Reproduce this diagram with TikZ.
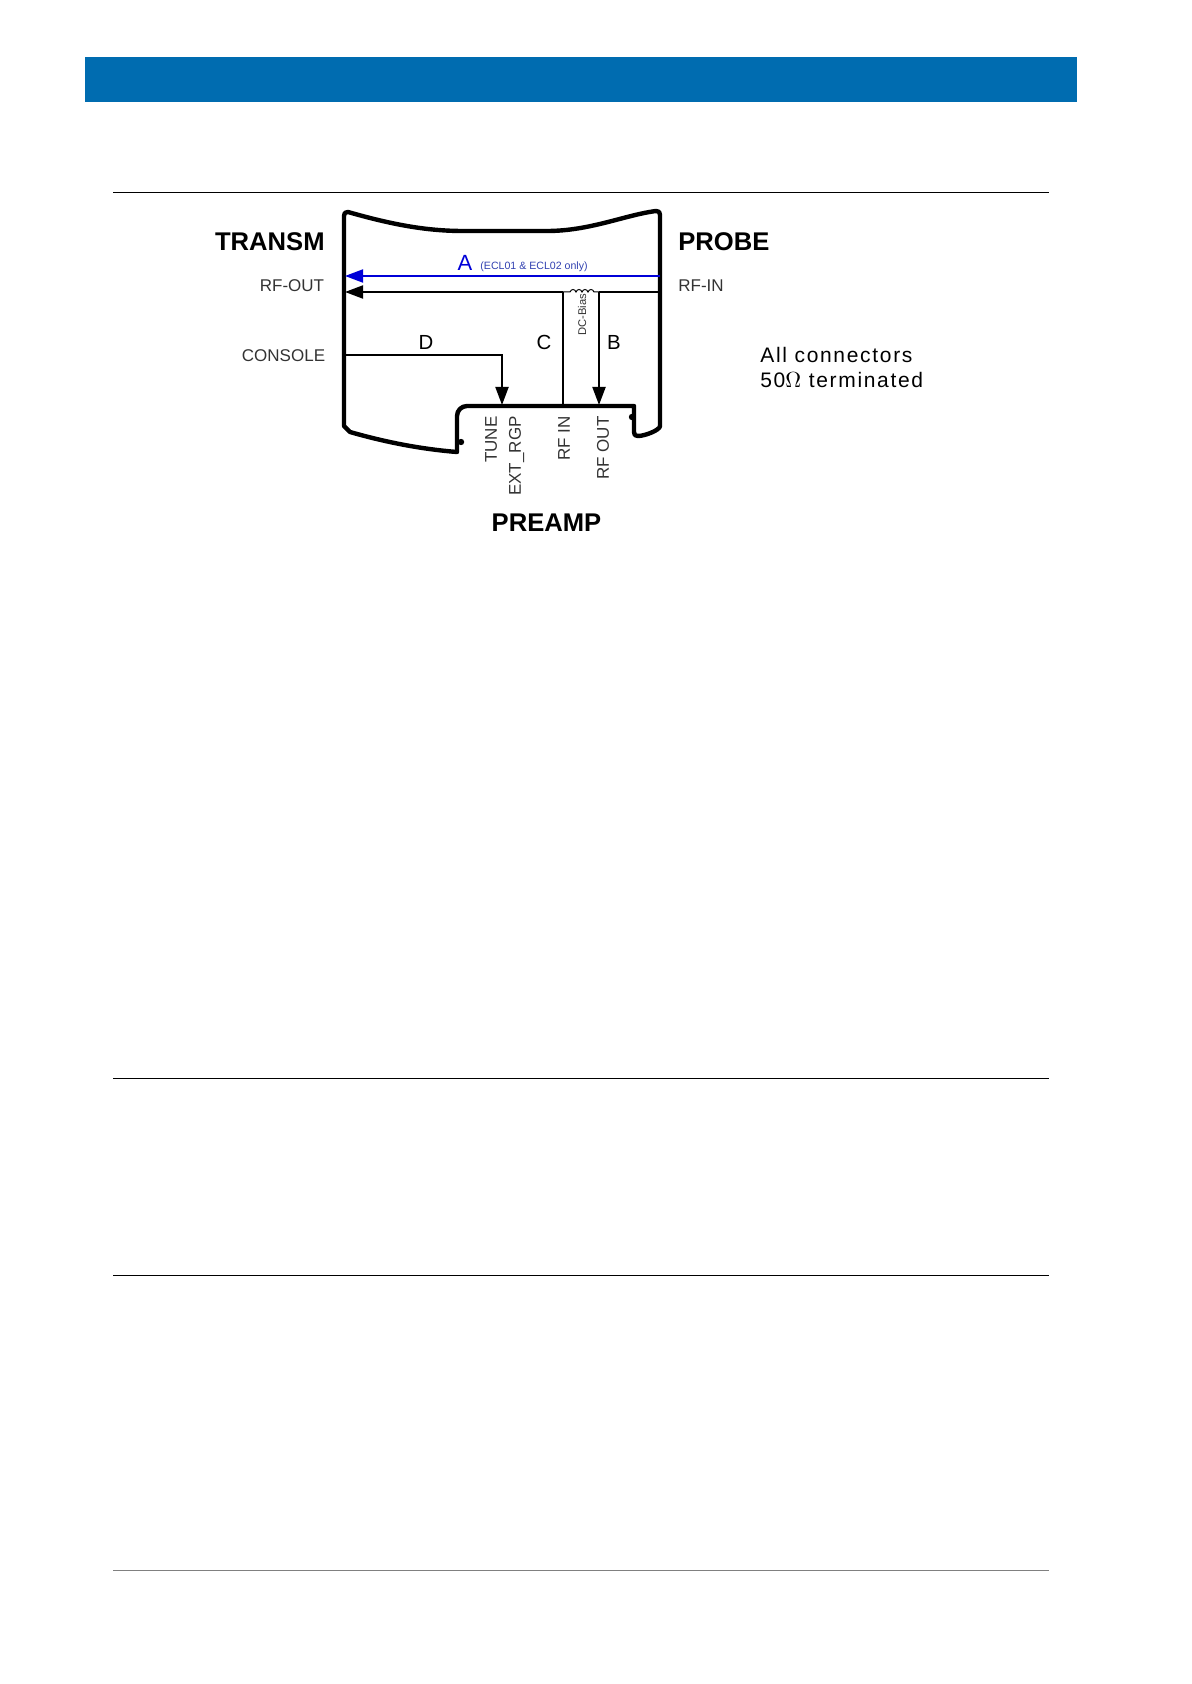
\documentclass[tikz,border=0pt]{standalone}
\usepackage{fontspec}
\setmainfont{Liberation Sans}
\usetikzlibrary{arrows.meta}
\usetikzlibrary{positioning}
\definecolor{headblue}{HTML}{006CB0}
\definecolor{sigblue}{HTML}{0000D8}
\definecolor{smallblue}{HTML}{3040B0}
\definecolor{labelgray}{HTML}{333333}
\tikzset{
	wall/.style={line width=2.2pt,line join=round,line cap=round},
	sigline/.style={line width=1pt},
	sigarrow/.style={sigline,-{Triangle[length=9pt,width=6.5pt]}},
	pagerule/.style={line width=.6pt},
	bigname/.style={inner sep=0pt,font=\fontsize{12.8}{15}\bfseries\selectfont},
	portname/.style={inner sep=0pt,text=labelgray,font=\fontsize{8.5}{10}\selectfont},
	pinname/.style={portname,rotate=90,anchor=east,text depth=0pt},
	linename/.style={inner sep=0pt,font=\fontsize{10.2}{12}\selectfont},
}
\begin{document}
\begin{tikzpicture}[x=.5pt,y=-.5pt]
	\useasboundingbox (0,0) rectangle (1191,1684);
	\fill[headblue] (85,57) rectangle (1077,102);
	\coordinate (r1a) at (113,192.5);
	\coordinate (r1b) at (1049,192.5);
	\coordinate (r2a) at (113,1078.5);
	\coordinate (r2b) at (1049,1078.5);
	\coordinate (r3a) at (113,1275.5);
	\coordinate (r3b) at (1049,1275.5);
	\coordinate (r4a) at (113,1570.5);
	\coordinate (r4b) at (1049,1570.5);
	\draw[pagerule] (r1a)--(r1b);
	\draw[pagerule] (r2a)--(r2b);
	\draw[pagerule] (r3a)--(r3b);
	\draw[pagerule,gray] (r4a)--(r4b);
	% housing
	\draw[wall] (350,432)--(344,426)--(344,216) .. controls (344,213) and (345,212) .. (348,212) .. controls (390,224) and (425,231) .. (463,231)--(547,231) .. controls (590,231) and (625,215) .. (656,211)
		.. controls (659,211) and (660,212) .. (660,215)--(660,426) .. controls (660,430) and (645,436) .. (638,436) .. controls (635,436) and (634,435) .. (634,432)
		--(634,406) [rounded corners=5pt] --(457,406) [sharp corners] --(457,452) .. controls (420,449) and (385,442) .. (350,432);
	\fill (461,442) circle (1.6pt);
	\fill (632,417) circle (1.6pt);
	% signal lines
	\coordinate (probeA) at (660,276);
	\coordinate (transA) at (345,276);
	\coordinate (probeB) at (660,292);
	\coordinate (transB) at (345,292);
	\coordinate (coilR) at (599,292);
	\coordinate (coilL) at (563,292);
	\coordinate (consoleD) at (344,355);
	\coordinate (bendD) at (502,355);
	\coordinate (pinTune) at (502,405);
	\coordinate (pinIn) at (563,406);
	\coordinate (pinOut) at (599,405);
	\draw[sigarrow,sigblue] (probeA)--(transA);
	\draw[sigarrow] (coilL)--(transB);
	\draw[sigline] (probeB)--(coilR);
	\draw[line width=.5pt] (coilL)--++(7,0) to[out=70,in=110,looseness=1.5] ++(6,0) to[out=70,in=110,looseness=1.5] ++(6,0) to[out=70,in=110,looseness=1.5] ++(6,0) to[out=70,in=110,looseness=1.5] ++(6,0)--(coilR);
	\draw[sigline] (coilL)--(pinIn);
	\draw[sigarrow] (coilR)--(pinOut);
	\draw[sigarrow] (consoleD)--(bendD)--(pinTune);
	% names
	\node[bigname,anchor=east] (transm) at (325,242){TRANSM};
	\node[bigname,anchor=west] (probe) at (678,242){PROBE};
	\node[bigname] (preamp) at (546.5,523){PREAMP};
	\node[portname,anchor=east] (rfout) at (324.5,286){RF-OUT};
	\node[portname,anchor=west] (rfin) at (678,286){RF-IN};
	\node[portname,anchor=east] (console) at (325.5,356){CONSOLE};
	\node[pinname] (tune) at (491,416){TUNE};
	\node[pinname] (extrgp) at (515,416){EXT\_RGP};
	\node[pinname] (pinrfin) at (564,416){RF IN};
	\node[pinname] (pinrfout) at (603,416){RF OUT};
	\node[linename,sigblue,font=\fontsize{11}{13}\selectfont] (lineA) at (465,263){A};
	\node[inner sep=0pt,anchor=base west,text=smallblue,font=\fontsize{5.3}{6}\selectfont] (only) at (480,270){(ECL01 \& ECL02 only)};
	\node[linename] (lineB) at (614,342){B};
	\node[linename] (lineC) at (544,342){C};
	\node[linename] (lineD) at (426,342){D};
	\node[inner sep=0pt,rotate=90,text=labelgray,font=\fontsize{5.6}{6}\selectfont] (dcbias) at (582,315){DC-Bias};
	\node[inner sep=0pt,anchor=base west,align=left,font=\fontsize{10.5}{13}\selectfont\addfontfeature{LetterSpace=8}] (allconn) at (760,388){All connectors\\50$\Omega$ terminated};
\end{tikzpicture}
\end{document}
